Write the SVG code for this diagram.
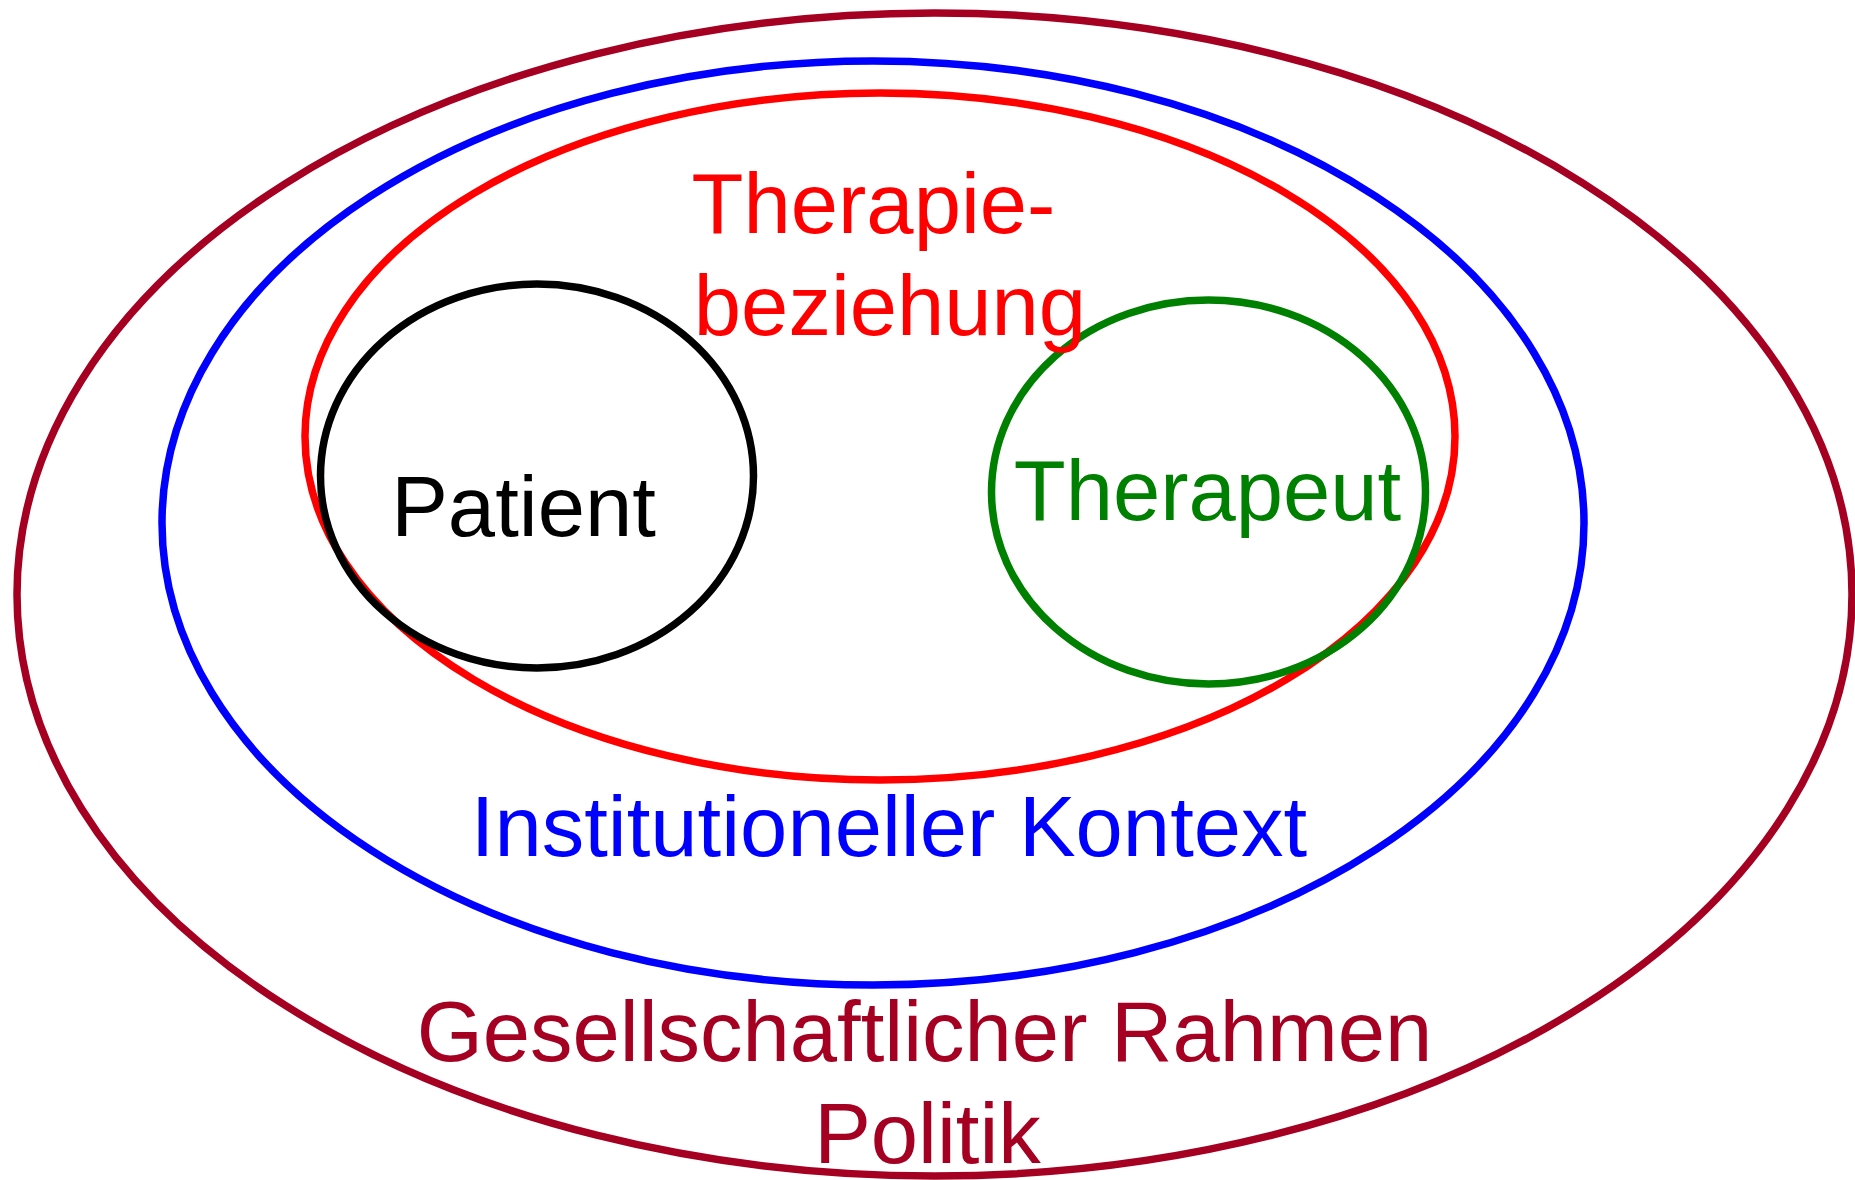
<svg xmlns="http://www.w3.org/2000/svg" width="1855" height="1180" viewBox="0 0 1855 1180">
<style>
.e{fill:none;stroke-width:7.5}
.t{font-family:"Liberation Sans",Arial,sans-serif;font-size:85px;text-anchor:middle}
</style>
<rect width="1855" height="1180" fill="#fff"/>
<g id="gesellschaft">
<ellipse class="e" cx="934.5" cy="594.5" rx="917.5" ry="581.5" stroke="#A50021"/>
<text class="t" x="924.5" y="1061" fill="#A50021">Gesellschaftlicher Rahmen</text>
<text class="t" x="927.5" y="1163" fill="#A50021">Politik</text>
</g>
<g id="institution">
<ellipse class="e" cx="873" cy="523" rx="711" ry="462" stroke="#0000FF"/>
<text class="t" x="889" y="856" fill="#0000FF">Institutioneller Kontext</text>
</g>
<g id="therapiebeziehung">
<ellipse class="e" cx="880" cy="436.5" rx="575" ry="343.5" stroke="#FF0000"/>
</g>
<g id="patient">
<ellipse class="e" cx="537" cy="476" rx="216.5" ry="192" stroke="#000000"/>
<text class="t" x="523.5" y="536" fill="#000000">Patient</text>
</g>
<g id="therapeut">
<ellipse class="e" cx="1208.5" cy="492" rx="217" ry="192" stroke="#008000"/>
<text class="t" x="1207.5" y="520" fill="#008000">Therapeut</text>
</g>
<g id="therapiebeziehung-label">
<text class="t" x="873.5" y="233" fill="#FF0000">Therapie-</text>
<text class="t" x="890" y="335" fill="#FF0000">beziehung</text>
</g>
<g id="connectors"/>
</svg>
